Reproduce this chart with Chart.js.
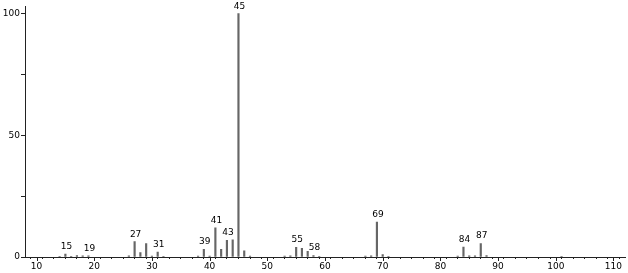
<!DOCTYPE html>
<html>
<head>
<meta charset="utf-8">
<script src="https://cdn.jsdelivr.net/npm/chart.js@4"></script>
<style>
  html, body { margin: 0; padding: 0; background: #fff; }
  #wrap { width: 628px; height: 273px; }
</style>
</head>
<body>
<div id="wrap"><canvas id="spectrum"></canvas></div>
<script>
// m/z values and relative intensities (%)
const mz = [14, 15, 16, 17, 18, 19, 26, 27, 28, 29, 30, 31, 32, 38, 39, 40, 41, 42, 43, 44, 45, 46, 47,
  53, 54, 55, 56, 57, 58, 59, 67, 68, 69, 70, 71, 83, 84, 85, 86, 87, 88, 101];
const intensity = [0.3, 1.2, 0.3, 0.6, 0.5, 0.5, 0.5, 6.3, 1.8, 5.5, 0.4, 2.0, 0.3, 0.4, 3.2, 0.4, 12.0, 3.2, 6.9, 7.1, 100, 2.5, 0.4,
  0.4, 0.5, 4.0, 3.6, 2.3, 0.6, 0.3, 0.4, 0.5, 14.4, 1.0, 0.3, 0.4, 4.1, 0.5, 0.5, 5.5, 0.6, 0.3];
const labelledPeaks = [15, 19, 27, 31, 39, 41, 43, 45, 55, 58, 69, 84, 87];
const xTickValues = [10, 20, 30, 40, 50, 60, 70, 80, 90, 100, 110];
const yTickValues = [0, 50, 100];

const points = mz.map((m, i) => ({ x: m, y: intensity[i] }));

// labels above selected peaks, plus long ticks for the major x values
const peakLabels = {
  id: 'peakLabels',
  afterDatasetsDraw(chart) {
    const { ctx, scales: { x, y } } = chart;
    ctx.save();
    ctx.fillStyle = '#000';
    ctx.font = '9px "DejaVu Sans"';
    ctx.textAlign = 'center';
    ctx.textBaseline = 'bottom';
    labelledPeaks.forEach((m) => {
      const v = intensity[mz.indexOf(m)];
      ctx.fillText(String(m), x.getPixelForValue(m) + 1, y.getPixelForValue(v) - 3);
    });
    ctx.strokeStyle = '#222';
    ctx.lineWidth = 1;
    xTickValues.forEach((t) => {
      const px = Math.round(x.getPixelForValue(t)) + 0.5;
      ctx.beginPath();
      ctx.moveTo(px, y.bottom);
      ctx.lineTo(px, y.bottom + 4);
      ctx.stroke();
    });
    ctx.restore();
  }
};

new Chart(document.getElementById('spectrum'), {
  type: 'bar',
  data: {
    datasets: [{
      data: points,
      backgroundColor: '#666',
      barThickness: 1.5,
    }],
  },
  options: {
    responsive: true,
    maintainAspectRatio: false,
    animation: false,
    layout: { padding: { top: 5, right: 3, bottom: 0, left: 0 } },
    plugins: { legend: { display: false }, tooltip: { enabled: false } },
    scales: {
      x: {
        type: 'linear',
        offset: false,
        min: 8,
        max: 112,
        afterBuildTicks: (scale) => {
          const ticks = [];
          for (let v = 8; v <= 112; v += 2) ticks.push({ value: v });
          scale.ticks = ticks;
        },
        afterFit: (scale) => { scale.height = 16; },
        ticks: {
          autoSkip: false,
          maxRotation: 0,
          padding: 2,
          color: '#000',
          font: { family: 'DejaVu Sans', size: 9 },
          callback: (v) => (xTickValues.includes(v) ? String(v) : ''),
        },
        grid: { drawOnChartArea: false, tickLength: 2, color: '#222' },
        border: { color: '#222', width: 1 },
      },
      y: {
        min: 0,
        max: 103,
        afterBuildTicks: (scale) => {
          scale.ticks = [0, 25, 50, 75, 100].map((v) => ({ value: v }));
        },
        afterFit: (scale) => { scale.width = 25; },
        ticks: {
          padding: 1,
          color: '#000',
          font: { family: 'DejaVu Sans', size: 9 },
          callback: (v) => (yTickValues.includes(v) ? String(v) : ''),
        },
        grid: { drawOnChartArea: false, tickLength: 4, color: '#222' },
        border: { color: '#222', width: 1 },
      },
    },
  },
  plugins: [peakLabels],
});
</script>
</body>
</html>
